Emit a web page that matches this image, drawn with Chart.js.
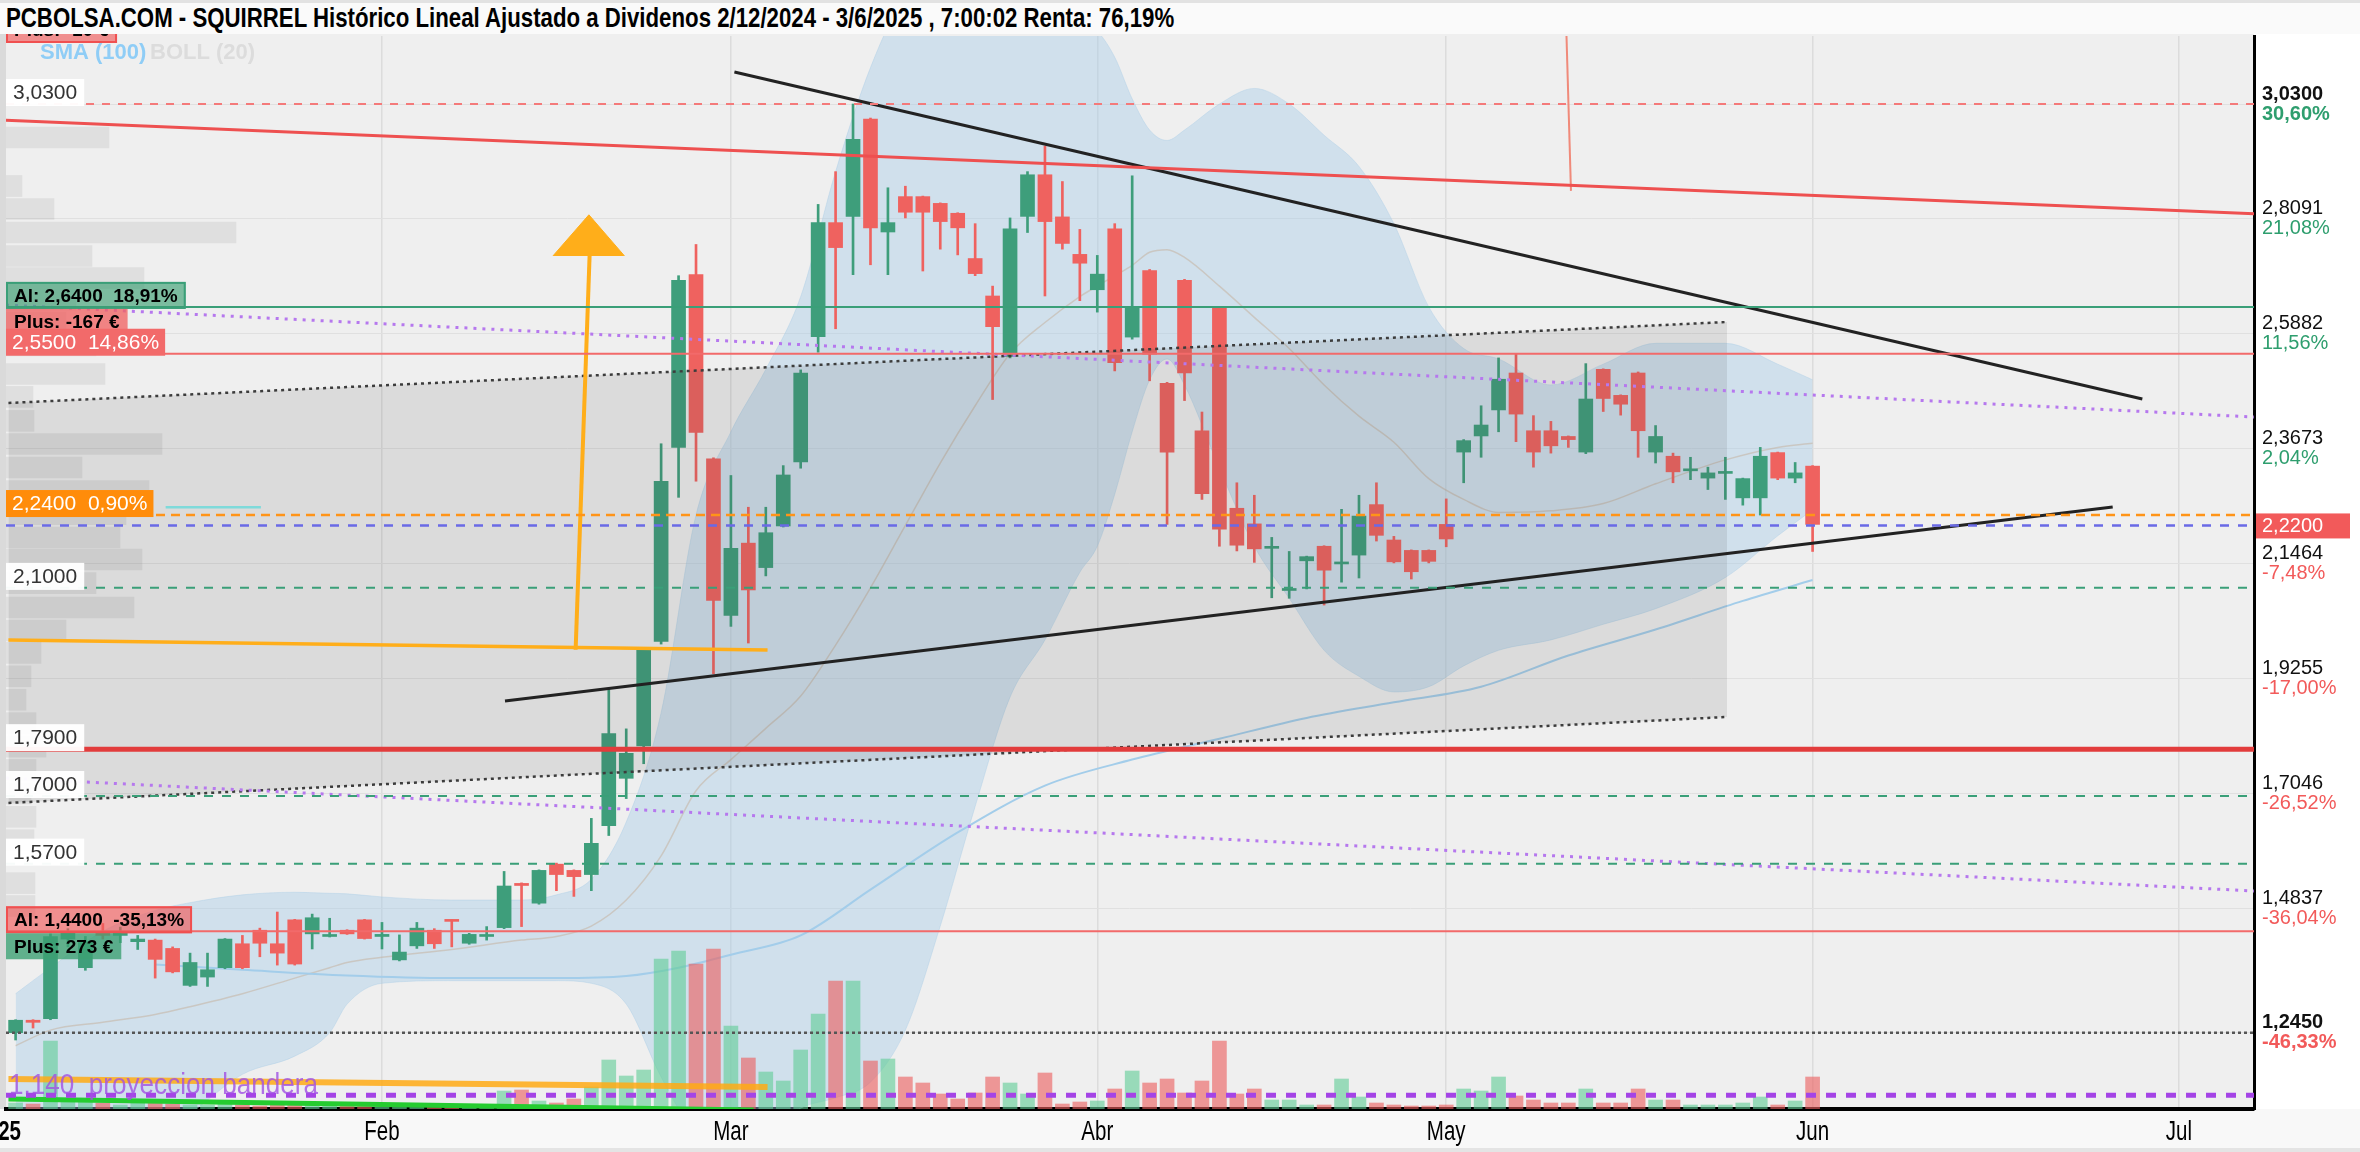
<!DOCTYPE html>
<html>
<head>
<meta charset="utf-8">
<script src="https://cdn.jsdelivr.net/npm/chart.js@4.4.1/dist/chart.umd.min.js"></script>
<style>
  html, body { margin: 0; padding: 0; background: #fff; }
  #wrap { position: relative; width: 2360px; height: 1152px; overflow: hidden; }
  #chart { position: absolute; left: 0; top: 0; }
  #title { position: absolute; left: 0; top: 0; width: 2360px; height: 34px; box-sizing: border-box;
    border-top: 3px solid #e2e2e2; background: #fafafa; padding-left: 6px; z-index: 2;
    font: bold 27px 'Liberation Sans', Arial, sans-serif; line-height: 31px; color: #000; white-space: nowrap; }
  #title span { display: inline-block; transform: scaleX(0.823); transform-origin: 0 50%; }
</style>
</head>
<body>
<div id="wrap">
  <canvas id="chart" width="2360" height="1152"></canvas>
  <div id="title"><span>PCBOLSA.COM - SQUIRREL Histórico Lineal Ajustado a Dividenos 2/12/2024 - 3/6/2025 , 7:00:02 Renta: 76,19%</span></div>
</div>
<script>
// trading-day index: 0 = 2 Jan 2025, first drawn candle is index 1
const firstDay = 1;
const openP = [
  1.245,1.269,1.272,1.425,1.370,1.440,1.432,1.420,1.423,1.407,
  1.336,1.352,1.370,1.416,1.442,1.416,1.462,1.435,1.430,1.442,
  1.462,1.430,1.385,1.412,1.442,1.462,1.417,1.430,1.447,1.532,
  1.494,1.569,1.557,1.549,1.643,1.734,1.796,1.997,2.370,2.702,
  2.348,2.047,2.186,2.139,2.219,2.342,2.583,2.802,2.814,3.001,
  2.784,2.852,2.852,2.839,2.820,2.733,2.661,2.545,2.814,2.894,
  2.813,2.741,2.673,2.790,2.582,2.710,2.493,2.691,2.402,2.638,
  2.253,2.223,2.176,2.095,2.152,2.180,2.146,2.163,2.260,2.192,
  2.172,2.172,2.222,2.361,2.392,2.442,2.513,2.402,2.402,2.391,
  2.361,2.520,2.470,2.513,2.361,2.353,2.325,2.311,2.320,2.273,
  2.273,2.360,2.311,2.334];
const highP = [
  1.270,1.270,1.435,1.445,1.430,1.455,1.448,1.432,1.425,1.410,
  1.398,1.398,1.426,1.432,1.446,1.477,1.463,1.473,1.465,1.443,
  1.463,1.457,1.433,1.457,1.445,1.462,1.436,1.449,1.555,1.533,
  1.558,1.571,1.558,1.657,1.906,1.829,1.985,2.377,2.700,2.760,
  2.350,2.316,2.255,2.255,2.335,2.519,2.837,2.900,3.030,3.003,
  2.869,2.872,2.853,2.840,2.821,2.800,2.680,2.811,2.900,2.949,
  2.881,2.789,2.739,2.800,2.892,2.712,2.495,2.693,2.438,2.640,
  2.302,2.278,2.197,2.170,2.161,2.181,2.251,2.278,2.302,2.199,
  2.173,2.173,2.271,2.385,2.450,2.542,2.550,2.431,2.420,2.392,
  2.531,2.521,2.471,2.515,2.412,2.359,2.351,2.332,2.351,2.311,
  2.370,2.361,2.341,2.335];
const lowP = [
  1.231,1.254,1.270,1.410,1.365,1.425,1.418,1.405,1.350,1.360,
  1.334,1.334,1.368,1.368,1.391,1.375,1.375,1.406,1.429,1.434,
  1.425,1.406,1.383,1.407,1.407,1.410,1.415,1.423,1.445,1.449,
  1.492,1.518,1.507,1.518,1.624,1.695,1.762,1.992,2.274,2.305,
  1.935,2.026,1.994,2.123,2.217,2.330,2.553,2.598,2.702,2.721,
  2.702,2.811,2.709,2.751,2.740,2.700,2.462,2.542,2.783,2.661,
  2.751,2.652,2.630,2.517,2.578,2.498,2.222,2.460,2.270,2.180,
  2.171,2.149,2.081,2.080,2.098,2.067,2.111,2.119,2.190,2.148,
  2.117,2.148,2.179,2.302,2.351,2.400,2.381,2.332,2.359,2.370,
  2.358,2.439,2.432,2.351,2.340,2.302,2.308,2.289,2.270,2.259,
  2.240,2.308,2.302,2.170];
const closeP = [
  1.269,1.265,1.430,1.438,1.420,1.432,1.440,1.425,1.386,1.362,
  1.380,1.366,1.425,1.370,1.417,1.398,1.377,1.466,1.433,1.435,
  1.426,1.434,1.400,1.446,1.416,1.459,1.434,1.432,1.527,1.528,
  1.557,1.549,1.545,1.609,1.820,1.782,1.983,2.305,2.691,2.399,
  2.076,2.176,2.096,2.206,2.317,2.513,2.802,2.754,2.962,2.792,
  2.802,2.822,2.822,2.804,2.792,2.704,2.602,2.790,2.894,2.804,
  2.762,2.724,2.703,2.533,2.640,2.549,2.361,2.513,2.281,2.213,
  2.182,2.175,2.178,2.098,2.160,2.134,2.149,2.238,2.201,2.150,
  2.131,2.151,2.194,2.383,2.413,2.501,2.434,2.361,2.373,2.385,
  2.463,2.464,2.453,2.402,2.391,2.323,2.328,2.321,2.322,2.310,
  2.353,2.311,2.321,2.222];
const volume = [
  6,5,68,8,7,6,4,6,6,5,
  4,4,5,4,3,5,4,4,3,3,
  3,2,2,2,2,2,4,4,18,19,
  8,6,10,22,49,33,39,150,158,145,
  160,83,51,37,28,59,95,128,128,48,
  50,32,26,15,10,16,32,26,15,36,
  5,7,8,20,38,26,30,16,28,68,
  15,20,9,9,4,4,30,12,6,4,
  3,3,4,20,18,32,13,9,6,6,
  20,6,6,20,9,9,4,4,4,6,
  12,4,8,32];

// Bollinger (20) and SMA (100) at sparse days
const bbIdx   = [1,3,6,9,11,14,17,19,20,22,26,30,32,34,36,38,40,42,44,46,48,50,52,54,56,58,60,62,63,64,65,66,67,68,70,72,74,76,78,80,82,84,86,89,92,95,99,102,104];
const bbUpper = [1.32,1.37,1.44,1.48,1.495,1.51,1.515,1.513,1.512,1.506,1.50,1.50,1.51,1.54,1.65,1.86,2.24,2.40,2.52,2.66,2.90,3.10,3.24,3.30,3.30,3.24,3.22,3.19,3.17,3.12,3.04,2.98,2.96,2.98,3.03,3.06,3.03,2.97,2.91,2.80,2.64,2.56,2.54,2.49,2.53,2.57,2.57,2.53,2.50];
const bbMid   = [1.22,1.25,1.265,1.28,1.295,1.32,1.35,1.37,1.38,1.39,1.405,1.423,1.43,1.45,1.50,1.585,1.71,1.77,1.83,1.892,1.99,2.10,2.22,2.34,2.45,2.55,2.61,2.66,2.68,2.70,2.72,2.745,2.75,2.735,2.68,2.62,2.56,2.49,2.43,2.38,2.31,2.27,2.245,2.248,2.262,2.30,2.346,2.37,2.378];
const bbLower = [1.09,1.06,1.04,1.05,1.09,1.165,1.20,1.245,1.30,1.34,1.345,1.345,1.345,1.34,1.30,1.16,1.05,1.02,1.05,1.10,1.12,1.15,1.25,1.45,1.68,1.89,2.00,2.13,2.18,2.28,2.40,2.50,2.54,2.49,2.33,2.18,2.08,1.98,1.93,1.90,1.91,1.95,1.98,2.00,2.03,2.06,2.12,2.20,2.25];
const smaIdx = [9,14,20,26,32,36,39,42,46,50,55,60,65,70,75,80,85,90,95,100,104];
const smaVal = [1.376,1.366,1.355,1.350,1.350,1.354,1.370,1.395,1.432,1.52,1.63,1.72,1.77,1.81,1.85,1.88,1.91,1.97,2.02,2.075,2.115];

// volume-at-price profile on the left edge
const profPrice = [2.9656,2.8724,2.8282,2.783,2.7378,2.6956,2.654,2.61,2.566,2.511,2.467,2.421,2.3765,2.3313,2.2862,2.2415,2.1968,2.1545,2.109,2.0623,2.018,1.975,1.93,1.885,1.84,1.795,1.75,1.705,1.66,1.615,1.5325,1.4885];
const profVol   = [103,16,48,230,86,138,70,60,90,99,27,28,156,76,143,120,114,136,90,128,60,35,25,20,30,40,30,25,30,28,29,29];

// axes
const xMin = 0.45, xMax = 129.3;
const yMin = 1.0984, yMax = 3.1607;
const monthIdx = [22, 42, 63, 83, 104, 125];
const monthNames = ['Feb', 'Mar', 'Abr', 'May', 'Jun', 'Jul'];
const yearIdx = 0, yearLabel = '2025';
const yTickVals = [3.03, 2.8091, 2.5882, 2.3673, 2.1464, 1.9255, 1.7046, 1.4837, 1.245];
const yTickPct = ['30,60%', '21,08%', '11,56%', '2,04%', '-7,48%', '-17,00%', '-26,52%', '-36,04%', '-46,33%'];
const lastPrice = 2.22;

// horizontal levels and drawn lines [index, price]
const levelValues = [3.03, 2.64, 2.55, 2.24, 2.22, 2.10, 1.79, 1.70, 1.57, 1.44, 1.245, 1.125];
const resistLine = [[42.2, 3.0915], [122.9, 2.463]];
const supportLine = [[29.05, 1.8826], [121.2, 2.2555]];
const longRedLine = [[0.45, 2.9987], [129.3, 2.819]];
const spikeLine = [[89.86, 3.20], [90.15, 2.863]];
const flagBase = [[0.59, 2.0], [44.1, 1.9806]];
const flagPole = [[33.1, 1.981], [33.9, 2.738]];
const flagHead = [[31.8, 2.738], [33.86, 2.817], [35.9, 2.738]];
const purpleUpper = [[0.45, 2.6437], [129.3, 2.4284]];
const purpleLower = [[0.45, 1.7346], [129.3, 1.5174]];
const channelUpper = [[0.59, 2.4553], [99.1, 2.611]];
const channelLower = [[0.59, 1.6866], [99.1, 1.8519]];
const cyanMark = [[9.6, 2.255], [15.06, 2.255]];
const projOrange = [[0.59, 1.1561], [44.1, 1.1407]];
const projGreen = [[0.59, 1.1176], [43.3, 1.0965]];

// left tags
const tagLevels = [3.03, 2.64, 2.55, 2.24, 2.10, 1.79, 1.70, 1.57, 1.44];
const tagTexts = ['3,0300', 'Al: 2,6400  18,91%', '2,5500  14,86%', '2,2400  0,90%', '2,1000', '1,7900', '1,7000', '1,5700', 'Al: 1,4400  -35,13%'];
const tagKinds = ['plain', 'alertUp', 'red', 'orange', 'plain', 'plain', 'plain', 'plain', 'alertDown'];
const plusTexts = ['Plus: -167 €', 'Plus: 273 €'];
const topPlusText = 'Plus: -10 €';
const projText = '1,140  proyeccion bandera';
const projPrice = 1.1435;

const FONT = "'Liberation Sans', Arial, Helvetica, sans-serif";
const UP = '#3e9e7b', DOWN = '#ef625f';

const fmt = v => v.toFixed(4).replace('.', ',');
const pts = arr => arr.map(p => ({ x: p[0], y: p[1] }));
const isUp = openP.map((o, k) => closeP[k] >= o);

const lineSet = (data, color, width, extra) => Object.assign({
  type: 'line', data: pts(data), borderColor: color, borderWidth: width,
  pointRadius: 0, fill: false, tension: 0, order: 5, xAxisID: 'x', yAxisID: 'y',
}, extra || {});

const levelStyles = [
  ['#f47a7a', 2, [8, 8]], ['#3a9f78', 2, []], ['#f26a6a', 2, []], ['#ff9418', 2.5, [9, 6]],
  ['#6a6ae6', 2.5, [9, 9]], ['#3a9f78', 2, [9, 9]], ['#e23c3c', 5, []], ['#3a9f78', 2, [9, 9]],
  ['#3a9f78', 2, [9, 9]], ['#f26a6a', 2, []], ['#555555', 2.5, [3, 3]], ['#a444e6', 5, [10, 10]],
];

const datasets = [];
const add = ds => { datasets.push(ds); return datasets.length - 1; };

// Bollinger band
const bbUp = add({ type: 'line', data: bbIdx.map((i, k) => ({ x: i, y: bbUpper[k] })), borderColor: 'rgba(160,200,228,0.35)', borderWidth: 1,
  pointRadius: 0, fill: false, cubicInterpolationMode: 'monotone', order: 20 });
add({ type: 'line', data: bbIdx.map((i, k) => ({ x: i, y: bbLower[k] })), borderColor: 'rgba(160,200,228,0.35)', borderWidth: 1,
  pointRadius: 0, fill: bbUp, backgroundColor: 'rgba(165,203,232,0.42)', cubicInterpolationMode: 'monotone', order: 19 });
add({ type: 'line', data: bbIdx.map((i, k) => ({ x: i, y: bbMid[k] })), borderColor: 'rgba(196,178,160,0.55)', borderWidth: 1.5,
  pointRadius: 0, fill: false, cubicInterpolationMode: 'monotone', order: 18 });
// volume profile
add({ type: 'bar', indexAxis: 'y', xAxisID: 'xProf', yAxisID: 'y', data: profPrice.map((p, k) => ({ x: profVol[k], y: p })),
  backgroundColor: 'rgba(0,0,0,0.065)', barThickness: 21, grouped: false, order: 21 });
// SMA 100
add({ type: 'line', data: smaIdx.map((i, k) => ({ x: i, y: smaVal[k] })), borderColor: '#a3cdea', borderWidth: 2,
  pointRadius: 0, fill: false, cubicInterpolationMode: 'monotone', order: 17 });
// volume
add({ type: 'bar', yAxisID: 'yVol', data: volume.map((v, k) => ({ x: firstDay + k, y: v })),
  backgroundColor: isUp.map(u => u ? 'rgba(98,205,152,0.62)' : 'rgba(236,96,96,0.62)'), barThickness: 14, grouped: false, order: 16 });
// candles: wicks then bodies
add({ type: 'bar', data: lowP.map((l, k) => ({ x: firstDay + k, y: [l, highP[k]] })),
  backgroundColor: isUp.map(u => u ? UP : DOWN), barThickness: 2, grouped: false, order: 15 });
add({ type: 'bar', data: openP.map((o, k) => ({ x: firstDay + k, y: [o, closeP[k]] })),
  backgroundColor: isUp.map(u => u ? UP : DOWN), barThickness: 14, minBarLength: 2, grouped: false, order: 14 });
// dotted channel with its grey fill drawn over the candles
const chUp = add(lineSet(channelUpper, '#3c3c3c', 2.5, { borderDash: [3, 4], order: 13 }));
add(lineSet(channelLower, '#3c3c3c', 2.5, { borderDash: [3, 4], order: 12, fill: chUp, backgroundColor: 'rgba(70,70,70,0.12)' }));

// levels
levelValues.forEach((v, k) => {
  const [c, w, d] = levelStyles[k];
  add(lineSet([[xMin, v], [xMax, v]], c, w, { borderDash: d }));
});
add(lineSet(longRedLine, '#ee5050', 3));
add(lineSet(spikeLine, '#f08a7a', 2));
add(lineSet(resistLine, '#222222', 3));
add(lineSet(supportLine, '#222222', 3));
add(lineSet(purpleUpper, '#b678ee', 3, { borderDash: [3, 6] }));
add(lineSet(purpleLower, '#b678ee', 3, { borderDash: [3, 6] }));
add(lineSet(cyanMark, '#7fdada', 2.5));
add(lineSet(flagBase, '#ffae1a', 3.5));
add(lineSet(flagPole, '#ffae1a', 4));
add(lineSet(flagHead, '#ffae1a', 1, { fill: { value: flagHead[0][1] }, backgroundColor: '#ffae1a', order: 4 }));
add(lineSet(projOrange, 'rgba(255,170,20,0.85)', 6));
add(lineSet(projGreen, '#25cc30', 5));

const tagStyles = {
  plain:     { font: `21px ${FONT}`, fill: 'rgba(255,255,255,0.96)', color: '#333', pad: 7 },
  red:       { font: `21px ${FONT}`, fill: '#f26a6a', color: '#fff', pad: 6 },
  orange:    { font: `21px ${FONT}`, fill: '#ff8c0a', color: '#fff', pad: 6 },
  alertUp:   { font: `bold 19px ${FONT}`, fill: 'rgba(60,160,115,0.65)', stroke: '#3a9f78', color: '#000', pad: 8 },
  alertDown: { font: `bold 19px ${FONT}`, fill: 'rgba(240,90,90,0.65)', stroke: '#f05050', color: '#000', pad: 8 },
  plusDown:  { font: `bold 19px ${FONT}`, fill: 'rgba(240,100,100,0.78)', color: '#000', pad: 8 },
  plusUp:    { font: `bold 19px ${FONT}`, fill: 'rgba(60,160,115,0.8)', color: '#000', pad: 8 },
};

function drawTag(ctx, left, bottom, text, st, h) {
  ctx.font = st.font;
  const w = ctx.measureText(text).width + st.pad * 2;
  ctx.fillStyle = st.fill;
  ctx.fillRect(left, bottom - h, w, h);
  if (st.stroke) { ctx.strokeStyle = st.stroke; ctx.lineWidth = 2; ctx.strokeRect(left + 1, bottom - h + 1, w - 2, h - 2); }
  ctx.fillStyle = st.color;
  ctx.textAlign = 'left';
  ctx.textBaseline = 'middle';
  ctx.fillText(text, left + st.pad, bottom - h / 2 + 1);
}

// condensed text: normal font squeezed horizontally
function narrowText(ctx, text, px, py, font, squeeze, align) {
  ctx.save();
  ctx.translate(px, py);
  ctx.scale(squeeze, 1);
  ctx.font = font;
  ctx.textAlign = align;
  ctx.textBaseline = 'middle';
  ctx.fillText(text, 0, 0);
  ctx.restore();
}

const decor = {
  id: 'decor',
  beforeDraw(chart) {
    const { ctx, chartArea: a, width, height } = chart;
    ctx.save();
    ctx.fillStyle = '#fff'; ctx.fillRect(0, 0, width, height);
    ctx.fillStyle = '#f8f8f8'; ctx.fillRect(0, a.bottom, width, height - a.bottom);
    ctx.fillStyle = '#e4e4e4'; ctx.fillRect(0, height - 4, width, 4);
    ctx.fillStyle = '#efefef'; ctx.fillRect(a.left, 0, a.right - a.left, a.bottom);
    ctx.fillStyle = '#dadada'; ctx.fillRect(0, 0, a.left, a.bottom);
    ctx.restore();
  },
  afterDraw(chart) {
    const { ctx, chartArea: a, scales: { x, y } } = chart;
    ctx.save();
    // percentages under right-axis prices
    ctx.textAlign = 'left'; ctx.textBaseline = 'middle';
    yTickVals.forEach((v, k) => {
      const strong = k === 0 || k === yTickVals.length - 1;
      ctx.font = `${strong ? 'bold ' : ''}20px ${FONT}`;
      ctx.fillStyle = yTickPct[k].startsWith('-') ? '#f25a5a' : '#2e9e6e';
      ctx.fillText(yTickPct[k], a.right + 8, y.getPixelForValue(v) + 10);
    });
    // last price tag
    const cy = y.getPixelForValue(lastPrice);
    ctx.fillStyle = '#f25a5a'; ctx.fillRect(a.right + 2, cy - 12, 94, 25);
    ctx.fillStyle = '#fff'; ctx.font = `20px ${FONT}`; ctx.fillText(fmt(lastPrice), a.right + 8, cy + 1);

    // left tags
    drawTag(ctx, a.left, a.top + 7, topPlusText, tagStyles.alertDown, 26);
    let plus = 0;
    tagLevels.forEach((v, k) => {
      const bottom = y.getPixelForValue(v) + 2;
      drawTag(ctx, a.left, bottom, tagTexts[k], tagStyles[tagKinds[k]], 27);
      if (tagKinds[k].startsWith('alert')) {
        const st = tagKinds[k] === 'alertUp' ? tagStyles.plusDown : tagStyles.plusUp;
        drawTag(ctx, a.left, bottom + 26, plusTexts[plus++], st, 26);
      }
    });

    // indicator legend
    ctx.textBaseline = 'middle'; ctx.textAlign = 'left';
    ctx.font = `bold 22px ${FONT}`;
    ctx.fillStyle = '#8fcdf6'; ctx.fillText('SMA (100)', a.left + 34, a.top + 17);
    ctx.fillStyle = '#dcdcdc'; ctx.fillText('BOLL (20)', a.left + 144, a.top + 17);

    // projection note
    ctx.fillStyle = 'rgba(160,80,228,0.8)';
    narrowText(ctx, projText, a.left + 3, y.getPixelForValue(projPrice), `30px ${FONT}`, 0.87, 'left');

    // month labels under the axis, plus the cut year label
    ctx.fillStyle = '#000';
    monthIdx.forEach((v, k) => narrowText(ctx, monthNames[k], x.getPixelForValue(v), a.bottom + 24, `27px ${FONT}`, 0.76, 'center'));
    narrowText(ctx, yearLabel, x.getPixelForValue(yearIdx), a.bottom + 24, `bold 27px ${FONT}`, 0.76, 'center');
    ctx.restore();
  },
};

new Chart(document.getElementById('chart'), {
  type: 'bar',
  data: { datasets },
  options: {
    responsive: false,
    animation: false,
    devicePixelRatio: 1,
    events: [],
    layout: { padding: { left: 6, top: 36, right: 0, bottom: 0 } },
    plugins: { legend: { display: false }, tooltip: { enabled: false } },
    scales: {
      x: {
        type: 'linear', min: xMin, max: xMax, offset: false,
        grid: { offset: false, color: '#dcdcdc', lineWidth: 1.5, drawTicks: false },
        border: { color: '#000', width: 4 },
        ticks: { display: false },
        afterBuildTicks: s => { s.ticks = monthIdx.map(v => ({ value: v })); },
        afterFit: s => { s.height = 43; },
      },
      y: {
        type: 'linear', position: 'right', min: yMin, max: yMax, beginAtZero: false, offset: false,
        grid: { offset: false, color: '#e0e0e0', lineWidth: 1, drawTicks: false },
        border: { color: '#000', width: 3 },
        ticks: {
          color: '#111', padding: 8,
          font: c => ({ size: 20, family: FONT, lineHeight: 1, weight: (c.index === 0 || c.index === yTickVals.length - 1) ? 'bold' : 'normal' }),
          callback: v => [fmt(v), ''],
        },
        afterBuildTicks: s => { s.ticks = yTickVals.map(v => ({ value: v })); },
        afterFit: s => { s.width = 106; },
      },
      yVol: { type: 'linear', display: false, min: 0, max: 1073, offset: false, grid: { offset: false } },
      xProf: { type: 'linear', display: false, min: 0, max: 2248, offset: false, grid: { offset: false } },
    },
  },
  plugins: [decor],
});
</script>
</body>
</html>
